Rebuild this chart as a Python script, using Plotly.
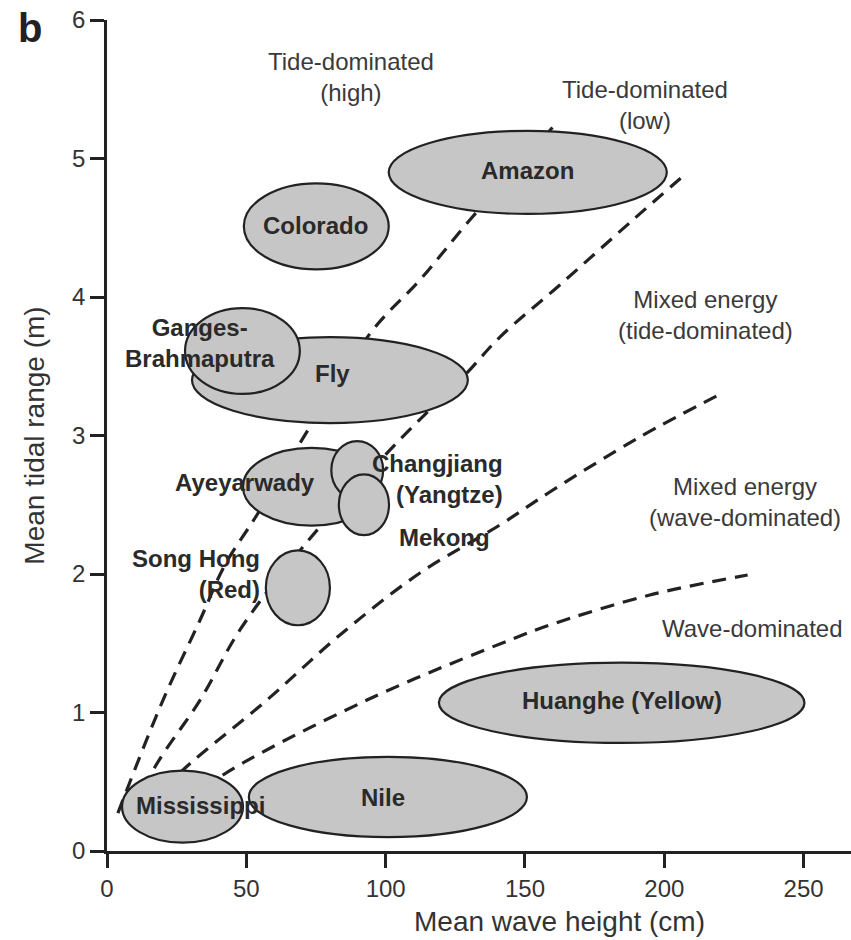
import plotly.graph_objects as go

# River deltas: centre and half-extent of each ellipse (wave height in cm, tidal range in m)
rivers = ["Amazon", "Colorado", "Fly", "Ganges-Brahmaputra", "Ayeyarwady",
          "Changjiang", "Mekong", "Song Hong", "Huanghe", "Nile", "Mississippi"]
wave_center = [151.0, 75.1, 80.0, 48.6, 73.4, 89.8, 92.2, 68.5, 184.7, 100.8, 27.1]
tide_center = [4.90, 4.51, 3.40, 3.61, 2.63, 2.75, 2.50, 1.90, 1.07, 0.39, 0.32]
wave_half = [49.9, 26.0, 49.5, 20.6, 24.6, 9.3, 9.0, 11.5, 65.6, 49.9, 21.7]
tide_half = [0.30, 0.31, 0.31, 0.31, 0.28, 0.21, 0.22, 0.27, 0.29, 0.29, 0.26]

# River labels
label_text = ["Amazon", "Colorado", "Fly", "Ganges-<br>Brahmaputra", "Ayeyarwady",
              "Changjiang<br>(Yangtze)", "Mekong", "Song Hong<br>(Red)",
              "Huanghe (Yellow)", "Nile", "Mississippi"]
label_x = [151.0, 75.0, 81.1, 33.4, 49.5, 142.8, 121.2, 55.6, 184.7, 99.0, 33.4]
label_y = [4.917, 4.513, 3.451, 3.668, 2.664, 2.686, 2.26, 2.0, 1.09, 0.383, 0.325]
label_anchor = ["center", "center", "center", "center", "center",
                "right", "center", "right", "center", "center", "center"]

# Regime boundaries (dashed)
b1_x = [3.9, 20.1, 33.4, 42.3, 53.8, 72.8, 95.4, 112.3, 130.2, 160.7]
b1_y = [0.274, 1.090, 1.668, 2.065, 2.426, 3.061, 3.762, 4.123, 4.556, 5.242]
b2_x = [10.0, 17.2, 33.4, 47.7, 70.3, 101.5, 129.1, 141.0, 162.5, 188.7, 208.0]
b2_y = [0.296, 0.606, 1.090, 1.596, 2.195, 2.895, 3.451, 3.711, 4.087, 4.556, 4.895]
b3_x = [20.8, 27.3, 57.4, 83.6, 112.3, 141.0, 158.9, 191.2, 220.9]
b3_y = [0.440, 0.585, 1.090, 1.560, 2.007, 2.354, 2.592, 2.989, 3.307]
b4_x = [35.2, 41.6, 93.3, 144.5, 158.9, 194.8, 229.9]
b4_y = [0.440, 0.549, 1.090, 1.523, 1.632, 1.848, 1.993]

# Regime names
regime_text = ["Tide-dominated<br>(high)", "Tide-dominated<br>(low)",
               "Mixed energy<br>(tide-dominated)", "Mixed energy<br>(wave-dominated)",
               "Wave-dominated"]
regime_x = [87.5, 193.0, 214.8, 228.8, 231.7]
regime_y = [5.589, 5.386, 3.870, 2.520, 1.610]

x_ticks = [0, 50, 100, 150, 200, 250]
y_ticks = [0, 1, 2, 3, 4, 5, 6]

FONT = "Liberation Sans, Arial, sans-serif"
INK = "#222222"

fig = go.Figure()

for bx, by in [(b1_x, b1_y), (b2_x, b2_y), (b3_x, b3_y), (b4_x, b4_y)]:
    fig.add_trace(go.Scatter(
        x=bx, y=by, mode="lines", line_shape="spline",
        line=dict(color=INK, width=3.2, dash="14px,9px"),
        hoverinfo="skip", showlegend=False))

for cx, cy, rx, ry in zip(wave_center, tide_center, wave_half, tide_half):
    fig.add_shape(type="circle", xref="x", yref="y",
                  x0=cx - rx, x1=cx + rx, y0=cy - ry, y1=cy + ry,
                  fillcolor="#c6c6c6", line=dict(color=INK, width=2.2),
                  layer="above")

for t, x, y, a in zip(label_text, label_x, label_y, label_anchor):
    fig.add_annotation(x=x, y=y, text=f"<b>{t}</b>", showarrow=False,
                       xanchor=a, yanchor="middle", align=a,
                       font=dict(family=FONT, size=24, color="#2a2a2a"))

for t, x, y in zip(regime_text, regime_x, regime_y):
    fig.add_annotation(x=x, y=y, text=t, showarrow=False,
                       xanchor="center", yanchor="middle", align="center",
                       font=dict(family=FONT, size=24, color="#3a3a3a"))

# Panel letter and axis titles
fig.add_annotation(xref="paper", yref="paper", x=-0.1035, y=0.99, xanchor="center",
                   yanchor="middle", text="<b>b</b>", showarrow=False,
                   font=dict(family=FONT, size=40, color=INK))
fig.add_annotation(xref="paper", yref="paper", x=0.608, y=-0.085,
                   xanchor="center", yanchor="middle",
                   text="Mean wave height (cm)", showarrow=False,
                   font=dict(family=FONT, size=28, color="#333333"))

fig.update_layout(
    width=851, height=940,
    margin=dict(l=107, r=0, t=20, b=89),
    plot_bgcolor="white", paper_bgcolor="white",
    font=dict(family=FONT, size=24, color="#333333"),
    xaxis=dict(range=[0, 267], tickvals=x_ticks, showgrid=False, zeroline=False,
               showline=True, linecolor=INK, linewidth=2.5,
               ticks="outside", ticklen=14, tickwidth=2.5, tickcolor=INK,
               tickfont=dict(family=FONT, size=24, color="#333333")),
    yaxis=dict(range=[0, 6], tickvals=y_ticks, showgrid=False, zeroline=False,
               showline=True, linecolor=INK, linewidth=2.5,
               ticks="outside", ticklen=14, tickwidth=2.5, tickcolor=INK,
               tickfont=dict(family=FONT, size=24, color="#333333"),
               title=dict(text="Mean tidal range (m)", standoff=20,
                          font=dict(family=FONT, size=28, color="#333333"))),
)

fig.write_html("out.html")
